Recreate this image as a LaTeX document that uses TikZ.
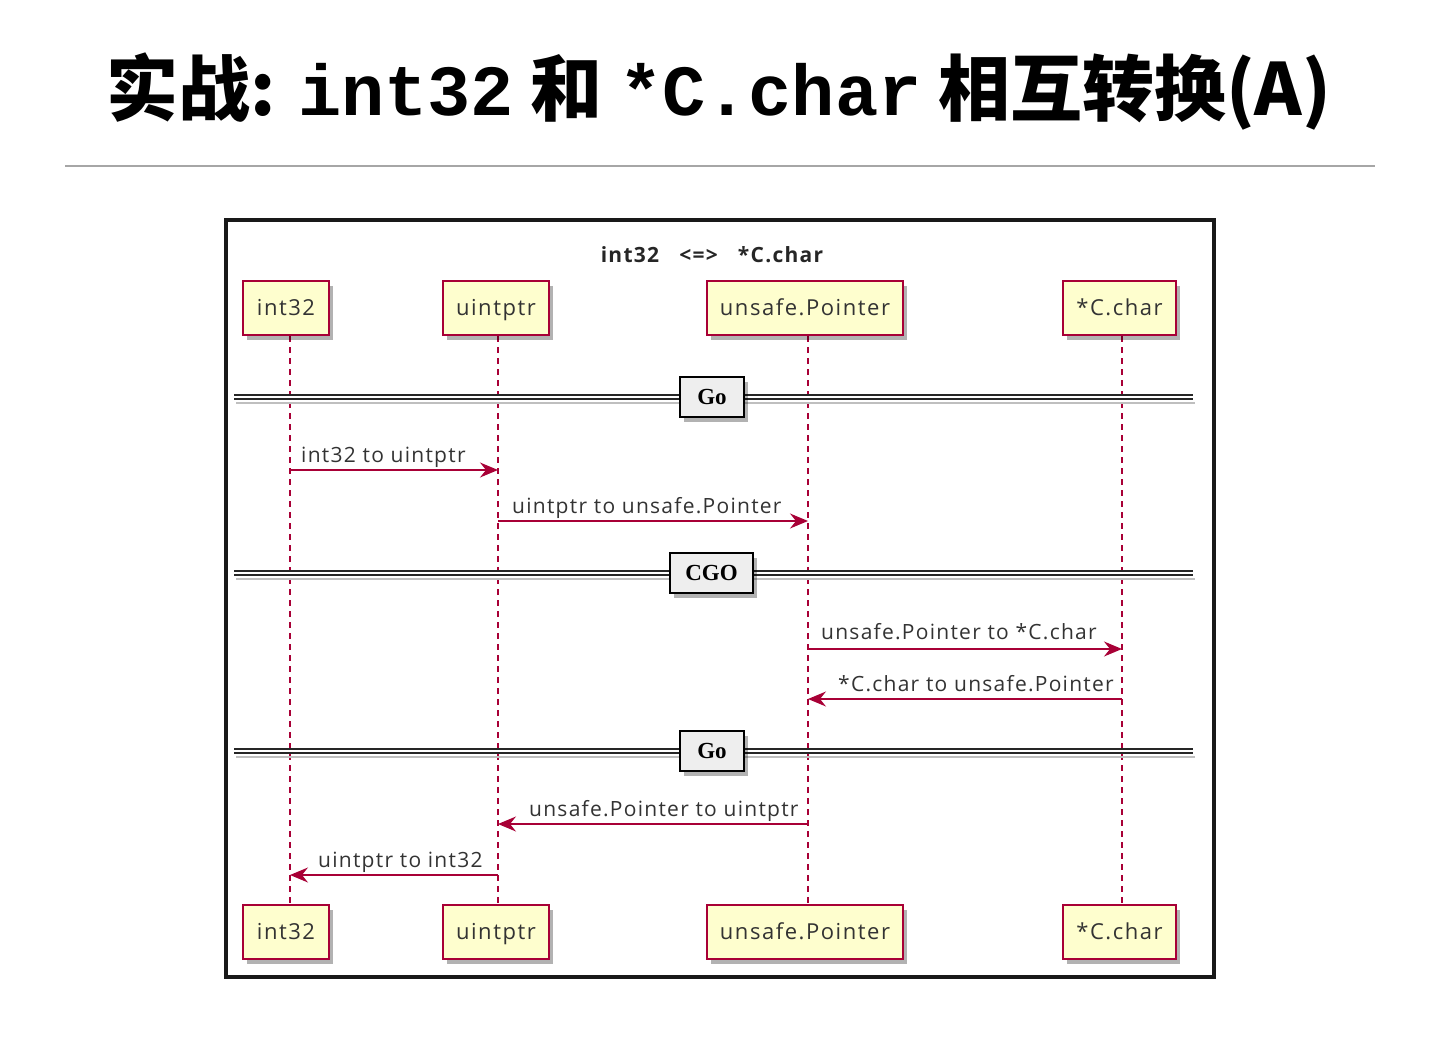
\documentclass[tikz,border=0pt]{standalone}
\usepackage{fontspec}
\setmainfont{Open Sans}
\newfontfamily\dfont{Open Sans}[LetterSpace=6]
\newfontfamily\pfont{Open Sans}[LetterSpace=7]
\newfontfamily\sfont{Liberation Serif}
\newfontfamily\cjk{Noto Sans CJK SC}
\newfontfamily\mono{Liberation Mono}
\usetikzlibrary{arrows.meta,shadows}
\definecolor{pcol}{HTML}{A80036}
\definecolor{pfill}{HTML}{FEFECE}
\definecolor{dfill}{HTML}{EEEEEE}
\begin{document}
\begin{tikzpicture}[x=1pt,y=-1pt,
  part/.style={draw=pcol, fill=pfill, line width=1.6pt, minimum height=54pt, inner sep=0pt,
    text height=18pt, text depth=4pt,
    font=\pfont\fontsize{22}{24}\selectfont, text=black!80,
    drop shadow={shadow xshift=4pt, shadow yshift=-5pt, fill=black, opacity=0.3}},
  life/.style={draw=pcol, line width=1.2pt, dash pattern=on 6pt off 5pt},
  msg/.style={draw=pcol, line width=1.4pt, -{Stealth[length=18pt,width=15pt,inset=6pt]}},
  lbl/.style={font=\dfont\fontsize{21}{24}\selectfont, inner sep=0pt, text=black!80},
  divbox/.style={draw=black, fill=dfill, line width=2.6pt, minimum height=40pt, inner sep=0pt,
    font=\sfont\fontsize{23}{24}\selectfont\bfseries,
    drop shadow={shadow xshift=4pt, shadow yshift=-5pt, fill=black, opacity=0.3}},
  divline/.style={draw=black!85, line width=1.8pt, double=white, double distance=2pt},
]
\useasboundingbox (0,0) rectangle (1440,1051);
% title
\node[anchor=base, inner sep=0pt, font=\fontsize{72}{80}\selectfont] (title) at (719,116)
  {\cjk\bfseries 实战: {\mono\bfseries int32} 和 {\mono\bfseries *C.char} 相互转换(A)};
\draw[draw=black!35, line width=2pt] (65,166) coordinate (rl) -- (1375,166) coordinate (rr);
% frame
\node[draw=black!90, line width=4pt, minimum width=988pt, minimum height=757pt, inner sep=0pt] (frame) at (720,598.5) {};
\node[anchor=base, font=\dfont\fontsize{21}{24}\selectfont\bfseries, text=black!85, inner sep=0pt] (dtitle) at (712,262)
  {int32\ \ \ <=>\ \ \ *C.char};
% lifelines
\foreach \n/\x in {a/290,b/498,c/808,d/1122}{
  \coordinate (\n top) at (\x,336);
  \coordinate (\n bot) at (\x,905);
  \draw[life] (\n top) -- (\n bot);
}
% dividers
\foreach \n/\y/\t/\w/\cx in {g1/397/Go/64/712, g2/573/CGO/83/711.5, g3/751/Go/64/712}{
  \draw[black!25, line width=2pt] (236,\y+6) -- (1195,\y+6);
  \draw[divline] (234,\y) coordinate (\n l) -- (1193,\y) coordinate (\n r);
  \node[divbox, minimum width=\w pt] (\n) at (\cx,\y) {\t};
}
% participants
\foreach \n/\t/\cx/\w in {a/int32/286/86, b/uintptr/496/106, c/unsafe.Pointer/805/196, d/*C.char/1119.5/113}{
  \node[part, minimum width=\w pt] (\n p1) at (\cx,308) {\t};
  \node[part, minimum width=\w pt] (\n p2) at (\cx,932) {\t};
}
% messages
\coordinate (m1s) at (290,470); \coordinate (m1e) at (498,470);
\coordinate (m2s) at (498,521); \coordinate (m2e) at (808,521);
\coordinate (m3s) at (808,649); \coordinate (m3e) at (1122,649);
\coordinate (m4s) at (1122,699); \coordinate (m4e) at (808,699);
\coordinate (m5s) at (808,824); \coordinate (m5e) at (498,824);
\coordinate (m6s) at (498,875); \coordinate (m6e) at (290,875);
\draw[msg] (m1s) -- (m1e);
\draw[msg] (m2s) -- (m2e);
\draw[msg] (m3s) -- (m3e);
\draw[msg] (m4s) -- (m4e);
\draw[msg] (m5s) -- (m5e);
\draw[msg] (m6s) -- (m6e);
\node[lbl, anchor=base west] (t1) at (301,462) {int32 to uintptr};
\node[lbl, anchor=base west] (t2) at (512,513) {uintptr to unsafe.Pointer};
\node[lbl, anchor=base west] (t3) at (821,639) {unsafe.Pointer to *C.char};
\node[lbl, anchor=base west] (t4) at (838,691) {*C.char to unsafe.Pointer};
\node[lbl, anchor=base west] (t5) at (529,816) {unsafe.Pointer to uintptr};
\node[lbl, anchor=base west] (t6) at (318,867) {uintptr to int32};
\end{tikzpicture}
\end{document}
